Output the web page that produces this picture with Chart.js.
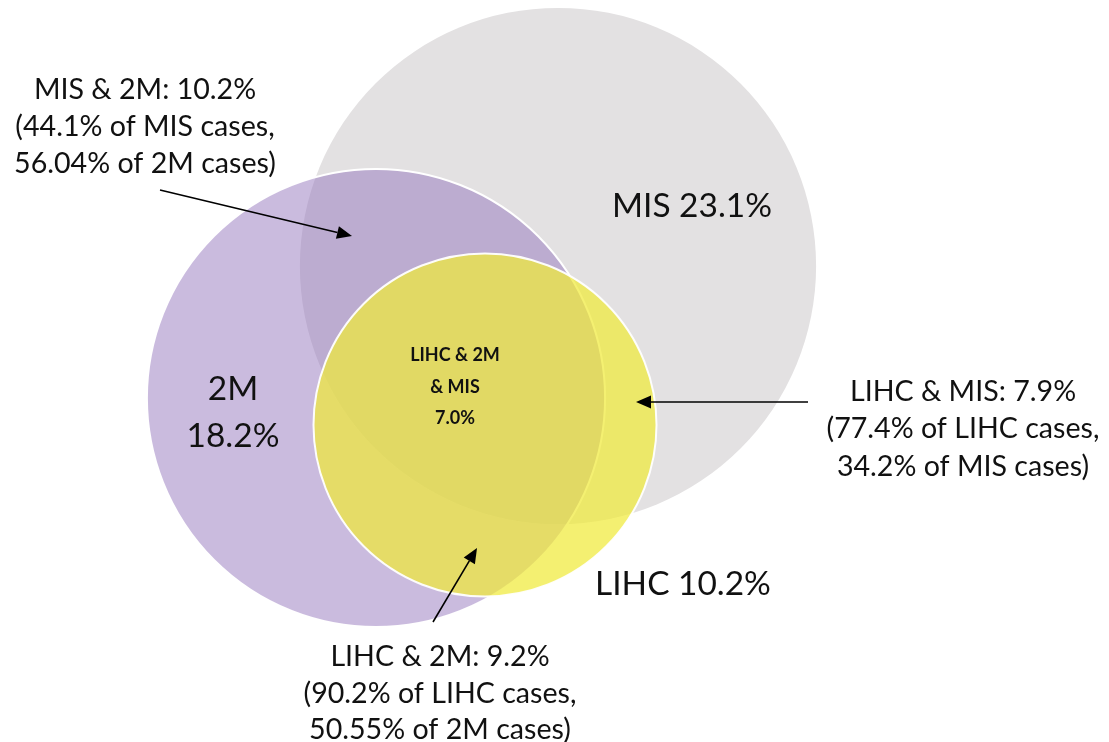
<!DOCTYPE html>
<html><head><meta charset="utf-8">
<script src="https://cdn.jsdelivr.net/npm/chart.js@4.4.1/dist/chart.umd.min.js"></script>
<style>html,body{margin:0;padding:0;background:#fff;overflow:hidden}#wrap{width:1109px;height:742px;position:relative}</style>
</head><body><div id="wrap"><canvas id="c" width="1109" height="742"></canvas></div>
<script>
window.onerror = function (m) { const d = document.createElement('div'); d.textContent = 'ERR: ' + m; d.style.cssText = 'position:absolute;top:0;left:0;color:red'; document.body.appendChild(d); };
// ---- data ----
const setNames = ['MIS', '2M', 'LIHC'];
const setPct = [23.1, 18.2, 10.2];
const overlapNames = ['MIS & 2M', 'LIHC & MIS', 'LIHC & 2M'];
const overlapPct = [10.2, 7.9, 9.2];
const overlapShareA = ['44.1% of MIS cases', '77.4% of LIHC cases', '90.2% of LIHC cases'];
const overlapShareB = ['56.04% of 2M cases', '34.2% of MIS cases', '50.55% of 2M cases'];
const tripleLines = ['LIHC & 2M', '& MIS'];
const triplePct = 7.0;

// ---- layout (positions on a 1109 x 742 plane) ----
const circleCenter = [[558, 266], [376, 398], [485, 425]];
const radiusPerSqrtPct = 53.7;   // circle area proportional to share
const fills = ['rgb(227,225,226)', 'rgba(150,120,190,0.5)', 'rgba(240,234,58,0.72)'];
const borders = ['rgba(255,255,255,0)', '#ffffff', 'rgba(255,255,255,0.95)'];
const borderW = [0, 2, 2];
const drawOrder = [3, 2, 1];
const setLabelPos = [[[692, 205]], [[233, 388], [233, 435]], [[683, 583]]];
const calloutPos = [[145, [88, 125, 162]], [963, [390, 427, 465]], [440, [655, 692, 728]]];
const arrows = [[[160, 190], [352, 236]], [[808, 402], [636, 402]], [[433, 622], [477, 548]]];
const triplePos = [455, [354, 386, 417]];
const FONT = 'Lato, "Open Sans", sans-serif';

const fmt = v => v.toFixed(1) + '%';
const setLabelText = [
  [setNames[0] + ' ' + fmt(setPct[0])],
  [setNames[1], fmt(setPct[1])],
  [setNames[2] + ' ' + fmt(setPct[2])]
];
const calloutText = overlapNames.map((n, i) => [
  n + ': ' + fmt(overlapPct[i]),
  '(' + overlapShareA[i] + ',',
  overlapShareB[i] + ')'
]);
const tripleText = tripleLines.concat([fmt(triplePct)]);

const datasets = setNames.map((n, i) => ({
  label: n,
  data: [{x: circleCenter[i][0], y: circleCenter[i][1], r: radiusPerSqrtPct * Math.sqrt(setPct[i])}],
  backgroundColor: fills[i],
  borderColor: borders[i],
  borderWidth: borderW[i],
  hoverBorderWidth: borderW[i],
  hoverRadius: 0,
  clip: false,
  order: drawOrder[i]
}));

function fitSize(ctx, text, weight, targetW) {
  ctx.font = weight + ' 40px ' + FONT;
  return 40 * targetW / ctx.measureText(text).width;
}

const overlay = {
  id: 'overlay',
  afterDatasetsDraw(chart) {
    const ctx = chart.ctx, sx = chart.scales.x, sy = chart.scales.y;
    const px = v => sx.getPixelForValue(v), py = v => sy.getPixelForValue(v);
    ctx.save();
    ctx.strokeStyle = '#000'; ctx.fillStyle = '#000'; ctx.lineWidth = 1.6;
    arrows.forEach(([a, b]) => {
      const x1 = px(a[0]), y1 = py(a[1]), x2 = px(b[0]), y2 = py(b[1]);
      const ang = Math.atan2(y2 - y1, x2 - x1), L = 15, W = 6.5;
      const bx = x2 - L * Math.cos(ang), by = y2 - L * Math.sin(ang);
      ctx.beginPath(); ctx.moveTo(x1, y1); ctx.lineTo(bx, by); ctx.stroke();
      ctx.beginPath(); ctx.moveTo(x2, y2);
      ctx.lineTo(bx + W * Math.sin(ang), by - W * Math.cos(ang));
      ctx.lineTo(bx - W * Math.sin(ang), by + W * Math.cos(ang));
      ctx.closePath(); ctx.fill();
    });
    const bigSize = fitSize(ctx, setLabelText[0][0], 'normal', 160);
    const smallSize = fitSize(ctx, calloutText[1][1], 'normal', 273);
    const boldSize = 18;
    ctx.textAlign = 'center'; ctx.textBaseline = 'alphabetic';
    ctx.fillStyle = '#111';
    const draw = (t, x, y, size, weight) => {
      ctx.font = weight + ' ' + size + 'px ' + FONT;
      const cap = ctx.measureText('H').actualBoundingBoxAscent;
      ctx.fillText(t, px(x), py(y) + cap / 2);
    };
    setLabelText.forEach((lines, i) => lines.forEach((t, j) =>
      draw(t, setLabelPos[i][j][0], setLabelPos[i][j][1], bigSize, 'normal')));
    calloutText.forEach((lines, i) => lines.forEach((t, j) =>
      draw(t, calloutPos[i][0], calloutPos[i][1][j], smallSize, 'normal')));
    tripleText.forEach((t, j) => draw(t, triplePos[0], triplePos[1][j], boldSize, 'bold'));
    ctx.restore();
  }
};

new Chart(document.getElementById('c'), {
  type: 'bubble',
  data: {datasets},
  options: {
    responsive: false, animation: false, devicePixelRatio: 1,
    events: [],
    layout: {padding: 0, autoPadding: false},
    plugins: {legend: {display: false}, tooltip: {enabled: false}},
    scales: {
      x: {type: 'linear', min: 0, max: 1109, display: false},
      y: {type: 'linear', min: 0, max: 742, reverse: true, display: false}
    }
  },
  plugins: [overlay]
});
</script></body></html>
